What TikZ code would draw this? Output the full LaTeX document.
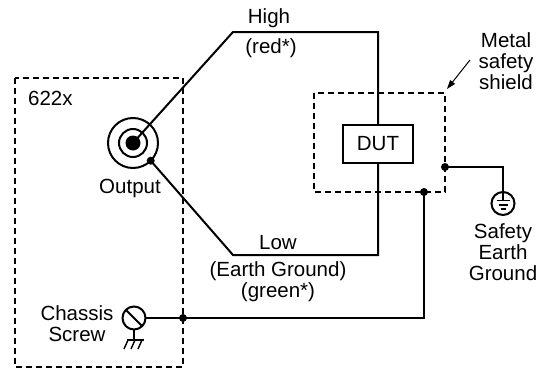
\documentclass[tikz,border=0pt]{standalone}
\usepackage{fontspec}
\setmainfont{Liberation Sans}
\usetikzlibrary{arrows.meta}
\begin{document}
\begin{tikzpicture}[x=1pt,y=-1pt,
  wire/.style={line width=2pt},
  thinwire/.style={line width=1.4pt},
  dashbox/.style={draw, line width=2pt, dash pattern=on 6pt off 4pt},
  lbl/.style={inner sep=0pt, font=\fontsize{20.5}{21}\selectfont, align=center},
  jdot/.style={circle, fill, inner sep=0pt, minimum size=8pt},
  ring/.style={circle, draw, line width=2pt, inner sep=0pt, outer sep=0pt}]
\useasboundingbox (0,0) rectangle (550,370);
% enclosures
\draw[dashbox] (15,78) rectangle (183,367);
\draw[dashbox] (314,93) rectangle (445,192);
\node[lbl, anchor=west] (unitlbl) at (28,98) {622x};
% output jack
\node[ring, minimum size=50pt] (jack) at (133,143) {};
\node[ring, minimum size=28pt] (jackmid) at (jack.center) {};
\fill (jack.center) circle (7.5pt);
\node[lbl] (outlbl) at (130,188) {Output};
\coordinate (lowdot) at (150.7,160.7);
% DUT
\node[draw, line width=2pt, minimum width=70pt, minimum height=38pt, inner sep=0pt, font=\fontsize{20.5}{21}\selectfont] (dut) at (378,144) {DUT};
% wire corners
\coordinate (hi1) at (233,32);
\coordinate (hi2) at (378,32);
\coordinate (lo1) at (233,255);
\coordinate (lo2) at (378,255);
\draw[wire] (jack.center) -- (hi1) -- (hi2) -- (dut.north);
\draw[wire] (lowdot) -- (lo1) -- (lo2) -- (dut.south);
\node[jdot] at (lowdot) {};
% labels on wires
\node[lbl] (highlbl) at (269,18) {High};
\node[lbl] (redlbl) at (271,48) {(red*)};
\node[lbl] (lowlbl) at (278,243) {Low};
\node[lbl] (egnd) at (278,282) {(Earth Ground)\\(green*)};
% shield connections
\coordinate (shr) at (445,167);
\coordinate (shb) at (424,192);
\coordinate (gcorner) at (503,167);
\coordinate (scorner) at (424,318);
\coordinate (boxpt) at (183,318);
% safety ground
\node[ring, minimum size=23pt] (sgnd) at (503,203.5) {};
\draw[wire] (shr) -- (gcorner) -- (503,200.5);
\draw[thinwire] (496.5,200.5) -- (509.5,200.5);
\draw[thinwire] (498.5,205) -- (507.5,205);
\draw[thinwire] (500.5,209) -- (505.5,209);
\node[jdot] at (shr) {};
\node[lbl] (sgndlbl) at (503,252) {Safety\\Earth\\Ground};
% chassis screw
\node[ring, minimum size=23pt] (screw) at (134,318) {};
\draw[wire] (screw.135) -- (screw.-45);
\draw[wire] (screw.south) -- (134,340);
\draw[wire] (127,340) -- (144,340);
\draw[thinwire] (128,340) -- (124,349);
\draw[thinwire] (135,340) -- (131,349);
\draw[thinwire] (142,340) -- (138,349);
\node[lbl] (screwlbl) at (77,324) {Chassis\\Screw};
\draw[wire] (screw.east) -- (boxpt) -- (scorner) -- (shb);
\node[jdot] at (boxpt) {};
\node[jdot] at (shb) {};
% shield label and arrow
\node[lbl] (shieldlbl) at (506,61) {Metal\\safety\\shield};
\coordinate (arrtail) at (470,60);
\coordinate (arrhead) at (447,89);
\draw[line width=1pt, -{Triangle[length=9pt,width=6pt]}] (arrtail) -- (arrhead);
\end{tikzpicture}
\end{document}
